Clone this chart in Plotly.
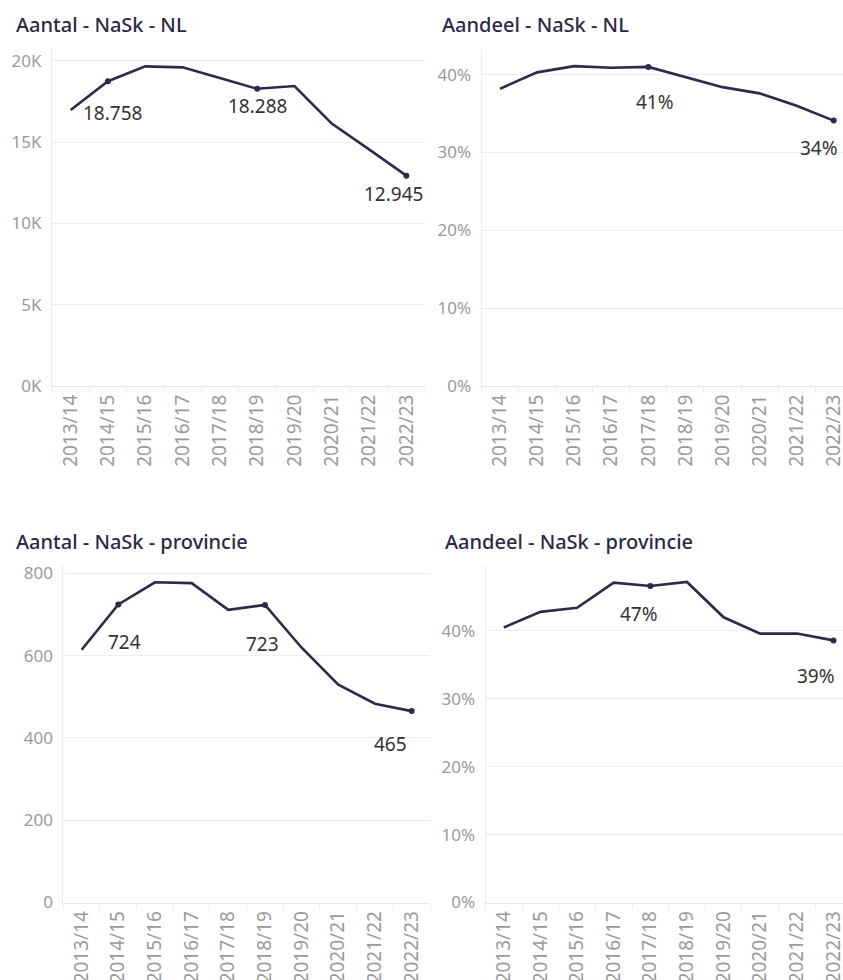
import plotly.graph_objects as go

# ---------------- data ----------------
years = ["2013/14", "2014/15", "2015/16", "2016/17", "2017/18",
         "2018/19", "2019/20", "2020/21", "2021/22", "2022/23"]

aantal_nl = [16985, 18758, 19670, 19610, 18950, 18288, 18460, 16150, 14560, 12945]
aandeel_nl = [38.2, 40.3, 41.1, 40.9, 41.0, 39.7, 38.4, 37.6, 36.0, 34.1]
aantal_prov = [614, 724, 778, 776, 711, 723, 619, 529, 483, 465]
aandeel_prov = [40.5, 42.8, 43.4, 47.1, 46.6, 47.2, 42.0, 39.6, 39.6, 38.6]

titles = ["Aantal - NaSk - NL", "Aandeel - NaSk - NL",
          "Aantal - NaSk - provincie", "Aandeel - NaSk - provincie"]

tick_nl_vals = [0, 5000, 10000, 15000, 20000]
tick_nl_text = ["0K", "5K", "10K", "15K", "20K"]
tick_pct_vals = [0, 10, 20, 30, 40]
tick_pct_text = ["0%", "10%", "20%", "30%", "40%"]
tick_prov_vals = [0, 200, 400, 600, 800]
tick_prov_text = ["0", "200", "400", "600", "800"]

labeled_nl = [1, 5, 9]
labeled_pct_nl = [4, 9]
labeled_prov = [1, 5, 9]
labeled_pct_prov = [4, 9]

# ---------------- style ----------------
W, H = 843, 980
LINE = "#2d2a4c"
TITLE_C = "#2b2946"
TICK_C = "#9a9a9a"
LABEL_C = "#333333"
GRID = "#eeeeee"
FONT = "Noto Sans"


def fx(px):
    return px / W


def fy(px):
    return 1 - px / H


def fmt_nl(v):
    return f"{v:,}".replace(",", ".")


def fmt_pct(v):
    return f"{round(v):d}%"


panels = [
    dict(vals=aantal_nl, lab=labeled_nl, fmt=fmt_nl, x=(52, 425), y=(49, 386),
         yr=[0, 20738], tv=tick_nl_vals, tt=tick_nl_text, xr=[-0.5, 9.5],
         shifts=[(5, -32), (0, -17), (-13, -18)], title=(14, 25)),
    dict(vals=aandeel_nl, lab=labeled_pct_nl, fmt=fmt_pct, x=(481.5, 843), y=(49, 386),
         yr=[0, 43.3], tv=tick_pct_vals, tt=tick_pct_text, xr=[-0.5, 9.25],
         shifts=[(7, -35), (-15, -27)], title=(440, 25)),
    dict(vals=aantal_prov, lab=labeled_prov, fmt=lambda v: str(v), x=(63.3, 430), y=(565, 902.5),
         yr=[0, 820], tv=tick_prov_vals, tt=tick_prov_text, xr=[-0.5, 9.5],
         shifts=[(6, -37), (-2, -39), (-21, -33)], title=(14, 541)),
    dict(vals=aandeel_prov, lab=labeled_pct_prov, fmt=fmt_pct, x=(485.5, 843), y=(565, 902.5),
         yr=[0, 49.7], tv=tick_pct_vals, tt=tick_pct_text, xr=[-0.5, 9.26],
         shifts=[(-11, -28), (-17, -36)], title=(443, 541)),
]

fig = go.Figure()
annotations = []
layout = {}

for i, p in enumerate(panels):
    n = "" if i == 0 else str(i + 1)
    xa, ya = "x" + n, "y" + n
    fig.add_trace(go.Scatter(x=years, y=p["vals"], mode="lines",
                             line=dict(color=LINE, width=2.6),
                             xaxis=xa, yaxis=ya, showlegend=False,
                             hoverinfo="skip"))
    fig.add_trace(go.Scatter(x=[years[k] for k in p["lab"]],
                             y=[p["vals"][k] for k in p["lab"]],
                             mode="markers", marker=dict(color=LINE, size=6),
                             xaxis=xa, yaxis=ya, showlegend=False,
                             cliponaxis=False, hoverinfo="skip"))
    layout["xaxis" + n] = dict(
        domain=[fx(p["x"][0]), min(1.0, fx(p["x"][1]))], anchor=ya,
        type="category", range=p["xr"], tickangle=-90, automargin=False,
        tickfont=dict(family=FONT, size=19, color=TICK_C),
        showgrid=False, showline=True, linecolor="#e6e6e6", linewidth=1,
        ticks="outside", tickson="boundaries", ticklen=6, tickcolor="#ececec",
        fixedrange=True)
    layout["yaxis" + n] = dict(
        domain=[fy(p["y"][1]), fy(p["y"][0])], anchor=xa, automargin=False,
        range=p["yr"], tickvals=p["tv"], ticktext=p["tt"],
        tickfont=dict(family=FONT, size=17, color=TICK_C),
        showgrid=True, gridcolor=GRID, gridwidth=1, zeroline=False,
        showline=True, linecolor="#ececec", linewidth=1, ticks="",
        ticklabelstandoff=6, fixedrange=True)
    for k, (dx, dy) in zip(p["lab"], p["shifts"]):
        annotations.append(dict(
            x=years[k], y=p["vals"][k], xref=xa, yref=ya,
            text=p["fmt"](p["vals"][k]), showarrow=False,
            xanchor="center", yanchor="middle", xshift=dx, yshift=dy,
            font=dict(family=FONT, size=19, color=LABEL_C)))
    annotations.append(dict(
        x=fx(p["title"][0]), y=fy(p["title"][1]), xref="paper", yref="paper",
        text=titles[i], showarrow=False, xanchor="left", yanchor="middle",
        font=dict(family=FONT, size=20, color=TITLE_C, weight=500)))

fig.update_layout(
    width=W, height=H, margin=dict(l=0, r=0, t=0, b=0, autoexpand=False),
    paper_bgcolor="white", plot_bgcolor="white",
    annotations=annotations, **layout)

fig.write_html("out.html", config={"displayModeBar": False},
               post_script="document.body.style.margin='0';"
                           "document.body.style.overflow='hidden';")
